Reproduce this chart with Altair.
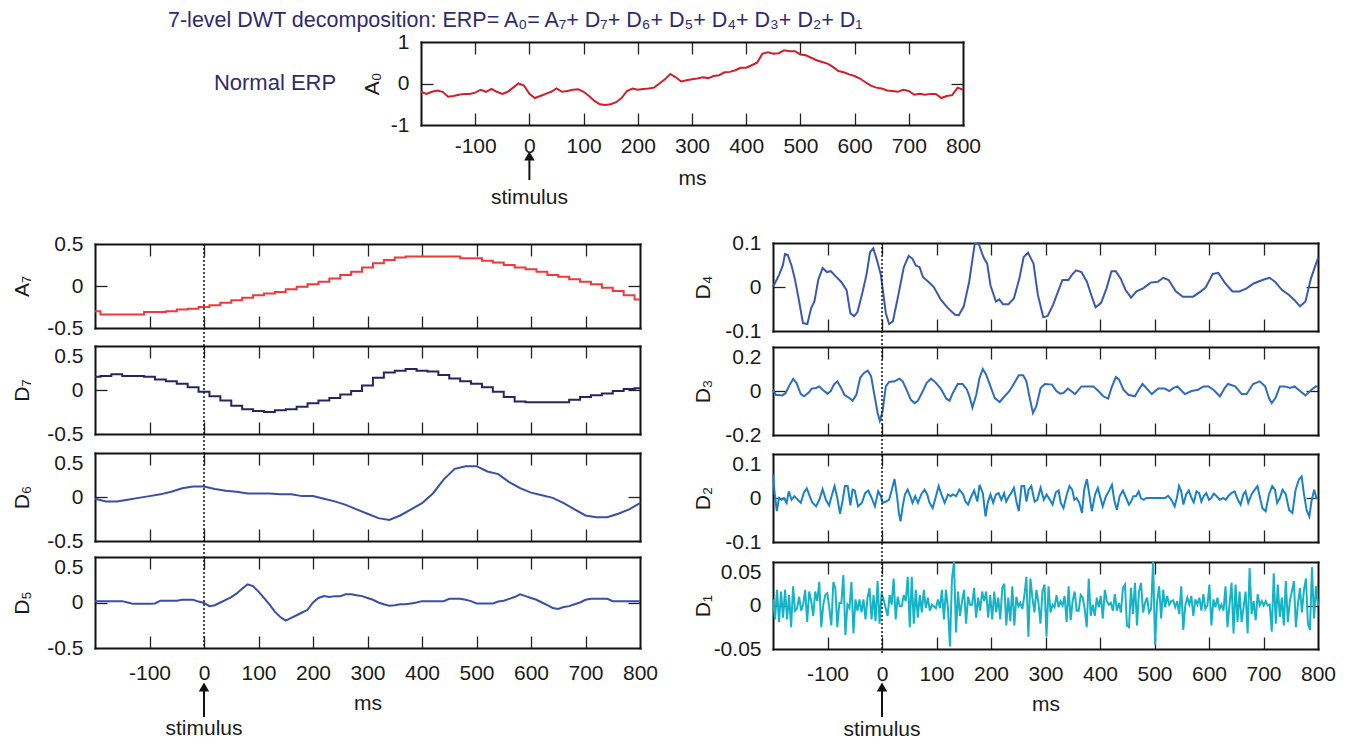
import altair as alt
import pandas as pd
import numpy as np

W, H = 1333, 732
FONT = "Liberation Sans"
FS = 21
NAVY = "#2e2b6e"

ms_ticks = [-100, 0, 100, 200, 300, 400, 500, 600, 700, 800]

# ---------------- data ----------------
a0_vals = [
    -0.20, -0.25, -0.20, -0.17, -0.20, -0.32, -0.30, -0.27, -0.25, -0.25,
    -0.22, -0.15, -0.20, -0.13, -0.20, -0.25, -0.20, -0.10, 0.00, -0.05,
    -0.25, -0.35, -0.30, -0.25, -0.20, -0.12, -0.20, -0.18, -0.15, -0.14,
    -0.20, -0.30, -0.42, -0.50, -0.52, -0.50, -0.45, -0.35, -0.18, -0.12,
    -0.15, -0.13, -0.12, -0.10, 0.00, 0.10, 0.23, 0.15, 0.05, 0.08,
    0.10, 0.12, 0.15, 0.13, 0.18, 0.20, 0.27, 0.28, 0.32, 0.38,
    0.38, 0.44, 0.50, 0.72, 0.75, 0.72, 0.73, 0.80, 0.78, 0.78,
    0.70, 0.68, 0.62, 0.56, 0.52, 0.48, 0.40, 0.30, 0.27, 0.22,
    0.18, 0.12, 0.03, -0.05, -0.10, -0.12, -0.17, -0.18, -0.20, -0.15,
    -0.18, -0.27, -0.25, -0.27, -0.25, -0.25, -0.35, -0.30, -0.28, -0.10,
    -0.15,
]

a7_vals = [
    -0.30, -0.34, -0.34, -0.34, -0.34, -0.31, -0.31, -0.30, -0.28, -0.27,
    -0.25, -0.23, -0.20, -0.17, -0.14, -0.11, -0.09, -0.07, -0.04, -0.01,
    0.02, 0.05, 0.09, 0.13, 0.17, 0.22, 0.27, 0.31, 0.34, 0.35,
    0.35, 0.35, 0.35, 0.35, 0.33, 0.33, 0.30, 0.28, 0.25, 0.22,
    0.20, 0.17, 0.13, 0.11, 0.08, 0.05, 0.02, -0.02, -0.06, -0.11,
    -0.16,
]

d7_vals = [
    0.15, 0.16, 0.18, 0.16, 0.16, 0.15, 0.12, 0.10, 0.07, 0.03,
    -0.02, -0.07, -0.12, -0.18, -0.22, -0.24, -0.25, -0.23, -0.22, -0.19,
    -0.15, -0.12, -0.09, -0.05, -0.01, 0.05, 0.14, 0.20, 0.22, 0.24,
    0.22, 0.21, 0.17, 0.13, 0.10, 0.07, 0.03, -0.02, -0.08, -0.13,
    -0.14, -0.14, -0.14, -0.14, -0.11, -0.08, -0.06, -0.04, -0.01, 0.01,
    0.02,
]

d6_vals = [
    -0.02, -0.05, -0.05, -0.03, -0.01, 0.01, 0.03, 0.06, 0.10, 0.12,
    0.12, 0.09, 0.07, 0.06, 0.04, 0.04, 0.04, 0.03, 0.03, 0.01,
    0.01, -0.02, -0.05, -0.09, -0.14, -0.19, -0.24, -0.26, -0.21, -0.14,
    -0.07, 0.04, 0.20, 0.32, 0.35, 0.35, 0.29, 0.26, 0.17, 0.10,
    0.05, 0.02, -0.01, -0.07, -0.14, -0.21, -0.23, -0.23, -0.19, -0.14,
    -0.07,
]

d5_vals = [
    0.015, 0.015, 0.015, 0.015, 0.015, 0.015, 0.0, -0.015, -0.015, -0.015,
    -0.015, -0.01, 0.02, 0.02, 0.02, 0.02, 0.03, 0.03, 0.03, 0.01,
    -0.005, -0.04, -0.03, 0.0, 0.03, 0.06, 0.10, 0.15, 0.20, 0.18,
    0.12, 0.05, -0.02, -0.10, -0.16, -0.20, -0.17, -0.14, -0.11, -0.08,
    0.0, 0.05, 0.07, 0.06, 0.07, 0.07, 0.09, 0.09, 0.08, 0.07,
    0.05, 0.03, 0.0, -0.02, -0.035, -0.03, -0.02, -0.02, -0.01, 0.0,
    0.015, 0.015, 0.015, 0.015, 0.015, 0.04, 0.04, 0.04, 0.03, 0.015,
    -0.01, -0.01, -0.01, -0.01, 0.01, 0.02, 0.04, 0.06, 0.09, 0.07,
    0.05, 0.03, 0.0, -0.03, -0.06, -0.07, -0.05, -0.04, -0.02, 0.0,
    0.03, 0.04, 0.04, 0.04, 0.04, 0.015, 0.015, 0.015, 0.015, 0.015,
    0.015,
]

d4_pts = [
    (-200, 0.0), (-189, 0.027), (-182, 0.049), (-178, 0.075), (-173, 0.073), (-166, 0.049),
    (-160, 0.019), (-153, -0.026), (-145, -0.082), (-137, -0.084), (-130, -0.048), (-124, -0.033),
    (-117, 0.016), (-109, 0.043), (-101, 0.034), (-94, 0.036), (-84, 0.023), (-75, 0.012),
    (-65, -0.007), (-58, -0.06), (-51, -0.066), (-45, -0.057), (-36, -0.013), (-28, 0.031),
    (-22, 0.079), (-16, 0.088), (-9, 0.06), (-2, 0.027), (7, -0.059), (13, -0.084),
    (20, -0.078), (30, -0.018), (40, 0.045), (49, 0.071), (56, 0.064), (62, 0.049),
    (69, 0.045), (75, 0.023), (85, 0.012), (95, 0.0), (108, -0.029), (121, -0.048),
    (134, -0.063), (141, -0.064), (150, -0.044), (160, 0.012), (170, 0.097), (177, 0.1),
    (186, 0.068), (193, 0.053), (199, 0.004), (209, -0.033), (215, -0.028), (222, -0.039),
    (232, -0.039), (242, -0.026), (252, 0.019), (260, 0.068), (268, 0.078), (278, 0.053),
    (286, -0.018), (296, -0.069), (304, -0.066), (314, -0.040), (324, -0.007), (331, 0.016),
    (342, 0.016), (348, 0.027), (356, 0.038), (366, 0.034), (376, 0.012), (386, -0.026),
    (392, -0.046), (402, -0.036), (412, -0.003), (421, 0.036), (429, 0.036), (438, 0.019),
    (447, -0.007), (457, -0.024), (467, -0.010), (479, -0.003), (493, 0.010), (506, 0.012),
    (516, 0.021), (526, 0.016), (539, -0.010), (552, -0.022), (571, -0.022), (585, -0.010),
    (594, -0.001), (607, 0.030), (617, 0.032), (630, 0.008), (643, -0.010), (656, -0.010),
    (669, -0.003), (682, 0.008), (698, 0.016), (711, 0.021), (721, 0.012), (734, -0.007),
    (747, -0.018), (757, -0.030), (767, -0.044), (777, -0.033), (787, 0.019), (800, 0.066),
]

d3_pts = [
    (-200, 0.006), (-195, -0.017), (-183, -0.02), (-177, -0.01), (-169, 0.03), (-163, 0.055),
    (-157, 0.037), (-149, -0.014), (-143, -0.024), (-134, -0.006), (-129, 0.011), (-121, 0.014),
    (-115, 0.021), (-109, 0.006), (-100, -0.012), (-94, 0.0), (-88, 0.03), (-82, 0.044),
    (-75, 0.014), (-69, -0.017), (-60, -0.032), (-54, -0.044), (-47, -0.017), (-40, 0.06),
    (-33, 0.082), (-26, 0.093), (-20, 0.067), (-14, -0.017), (-8, -0.1), (-4, -0.136),
    (1, -0.093), (7, 0.021), (13, 0.041), (23, 0.044), (32, 0.056), (38, 0.044),
    (45, 0.006), (53, -0.04), (60, -0.055), (66, -0.044), (75, 0.0), (82, 0.037),
    (90, 0.056), (99, 0.037), (109, 0.006), (118, -0.035), (124, -0.044), (130, -0.009),
    (139, 0.032), (148, 0.032), (156, 0.006), (161, -0.029), (166, -0.075), (173, -0.017),
    (179, 0.06), (185, 0.1), (191, 0.075), (199, 0.021), (207, -0.032), (216, -0.05),
    (225, -0.024), (234, 0.0), (243, 0.037), (251, 0.072), (259, 0.072), (265, 0.044),
    (271, -0.032), (277, -0.1), (283, -0.07), (291, 0.014), (299, 0.032), (312, 0.029),
    (320, 0.0), (327, -0.012), (333, -0.009), (341, 0.011), (347, 0.0), (354, -0.014),
    (366, 0.021), (388, 0.021), (397, 0.0), (406, -0.024), (415, -0.035), (421, 0.014),
    (429, 0.063), (435, 0.052), (443, 0.006), (452, -0.017), (464, -0.024), (471, 0.006),
    (478, 0.032), (486, 0.011), (495, -0.014), (507, 0.011), (519, 0.011), (527, 0.0),
    (535, 0.014), (542, 0.021), (550, 0.0), (556, -0.014), (568, 0.0), (580, 0.006),
    (590, 0.021), (599, 0.021), (608, 0.006), (620, -0.024), (629, 0.014), (635, 0.032),
    (648, 0.021), (660, -0.014), (669, -0.014), (681, 0.032), (693, 0.044), (703, 0.021),
    (710, -0.032), (715, -0.055), (722, -0.032), (730, 0.021), (739, 0.021), (749, 0.014),
    (757, 0.021), (767, 0.0), (777, -0.02), (788, 0.006), (796, 0.021), (800, 0.02),
]

d2_pts = [
    (-200, 0.053), (-197, 0.011), (-193, -0.030), (-189, 0.0), (-184, -0.004), (-180, 0.0),
    (-175, -0.011), (-171, 0.015), (-166, -0.004), (-161, 0.004), (-156, -0.002), (-149, -0.011),
    (-143, 0.013), (-138, 0.022), (-132, 0.002), (-128, -0.01), (-121, -0.019), (-115, -0.004),
    (-109, 0.02), (-103, -0.004), (-97, -0.017), (-91, 0.011), (-87, 0.027), (-82, 0.0),
    (-77, -0.036), (-72, -0.004), (-68, 0.027), (-63, 0.027), (-58, -0.017), (-54, 0.019),
    (-50, 0.017), (-44, -0.019), (-37, -0.011), (-31, 0.011), (-25, 0.017), (-19, 0.0),
    (-13, -0.019), (-7, 0.015), (-2, 0.004), (1, -0.011), (7, -0.008), (13, -0.004),
    (18, 0.019), (23, 0.043), (28, 0.0), (31, -0.034), (34, -0.053), (38, -0.019),
    (42, 0.008), (47, 0.019), (52, 0.004), (56, -0.011), (61, 0.004), (66, -0.011),
    (72, 0.008), (78, 0.019), (83, 0.008), (87, -0.01), (93, -0.023), (99, 0.004),
    (104, 0.027), (109, 0.008), (115, -0.011), (121, 0.008), (126, 0.004), (130, 0.008),
    (136, 0.004), (142, 0.019), (149, 0.008), (153, -0.008), (158, -0.015), (164, 0.004),
    (169, 0.017), (175, -0.008), (179, 0.03), (185, 0.011), (190, -0.042), (194, -0.011),
    (199, 0.008), (204, -0.011), (209, 0.008), (214, 0.011), (219, -0.004), (224, 0.011),
    (228, -0.008), (233, 0.004), (237, 0.011), (242, 0.023), (247, -0.01), (251, -0.03),
    (256, 0.027), (261, 0.027), (265, -0.008), (269, 0.019), (274, 0.027), (280, -0.008),
    (285, -0.004), (291, 0.023), (297, -0.004), (302, 0.008), (308, -0.004), (313, -0.015),
    (319, 0.013), (324, 0.017), (328, -0.011), (333, -0.023), (339, 0.008), (344, 0.027),
    (349, 0.019), (353, -0.004), (357, 0.0), (362, -0.011), (367, -0.034), (371, 0.019),
    (376, 0.043), (380, 0.011), (385, -0.03), (391, 0.008), (396, 0.023), (400, 0.004),
    (405, -0.019), (411, 0.004), (416, 0.015), (422, 0.03), (426, -0.004), (431, -0.027),
    (436, 0.004), (442, 0.017), (448, 0.0), (453, -0.015), (457, -0.008), (461, 0.004),
    (466, 0.004), (471, 0.015), (475, 0.0), (480, -0.004), (485, 0.0), (519, 0.0),
    (525, 0.005), (531, -0.004), (537, -0.019), (541, 0.0), (545, 0.027), (549, 0.015),
    (553, -0.015), (558, 0.008), (563, 0.017), (568, 0.0), (572, -0.01), (577, 0.015),
    (582, 0.011), (586, -0.008), (590, 0.004), (595, 0.011), (600, -0.004), (604, 0.0),
    (609, 0.01), (614, 0.004), (620, -0.004), (626, 0.0), (631, -0.004), (635, 0.004),
    (641, 0.011), (647, 0.015), (653, -0.004), (658, -0.015), (663, 0.008), (667, 0.015),
    (672, -0.011), (678, 0.008), (684, 0.019), (689, 0.027), (693, 0.004), (698, -0.023),
    (704, -0.03), (710, 0.008), (716, 0.027), (721, 0.019), (725, -0.011), (730, 0.0),
    (735, 0.019), (741, 0.008), (747, -0.027), (753, -0.034), (759, 0.019), (765, 0.042),
    (770, 0.049), (774, 0.011), (779, -0.027), (784, -0.042), (788, -0.008), (793, 0.019),
    (797, 0.0), (800, 0.0),
]

d1_vals = [
    0.007, -0.016, 0.018, -0.019, 0.016, -0.014, 0.018, -0.016, 0.012, -0.025,
    0.022, -0.006, -0.003, 0.010, -0.006, 0.001, 0.018, -0.019, 0.016, 0.005,
    -0.012, 0.016, 0.005, 0.027, -0.025, 0.001, 0.012, 0.014, -0.003, -0.023,
    0.027, 0.020, -0.025, 0.003, 0.003, 0.035, -0.034, 0.001, -0.003, 0.027,
    -0.032, 0.007, -0.006, 0.007, -0.008, 0.007, -0.016, 0.009, 0.020, -0.016,
    0.012, -0.018, 0.028, -0.021, 0.014, 0.007, -0.003, -0.012, 0.012, 0.001,
    0.031, -0.016, 0.010, -0.001, -0.001, 0.012, 0.005, 0.033, -0.025, 0.033,
    -0.021, 0.018, -0.014, 0.012, -0.008, 0.018, -0.003, 0.009, -0.006, 0.001,
    -0.001, -0.003, 0.007, -0.003, 0.018, -0.016, 0.018, -0.003, -0.047, 0.031,
    0.050, -0.031, 0.016, -0.012, 0.005, 0.018, -0.021, 0.010, 0.001, 0.001,
    0.020, -0.014, 0.009, -0.006, 0.016, 0.005, 0.016, -0.014, 0.012, -0.016,
    0.016, -0.008, 0.009, -0.016, 0.020, 0.025, -0.023, 0.009, -0.018, 0.022,
    -0.023, 0.010, -0.001, 0.003, -0.004, 0.012, 0.033, -0.036, 0.031, 0.009,
    -0.008, 0.018, 0.003, -0.021, 0.016, 0.024, -0.036,
    0.022, -0.008, 0.001, -0.002, 0.012, -0.002, 0.005, 0.000, 0.011, -0.019,
    0.022, -0.017, 0.005, 0.016, -0.006, -0.006, 0.012, 0.009, -0.004, -0.025,
    0.031, -0.012, 0.001, -0.012, 0.009, -0.002, 0.011, -0.015, 0.018, 0.005,
    0.001, 0.003, -0.006, 0.013, -0.006, 0.003, -0.008, 0.020, 0.024, -0.023,
    -0.025, 0.020, -0.010, 0.026, -0.023, 0.016, 0.026, -0.008, 0.003, 0.009,
    -0.008, -0.004, 0.051, -0.045, 0.005, 0.022, -0.015, 0.018, -0.002, 0.011,
    0.001, 0.005, 0.006, -0.002, 0.005, -0.010, 0.022, -0.028, 0.000, 0.009,
    0.001, 0.011, -0.012, 0.007, 0.001, 0.009, -0.006, 0.013, -0.004, 0.000,
    0.024, -0.023, 0.007, -0.002, 0.009, -0.004, 0.001, -0.006, 0.022, -0.025,
    0.001, 0.026, -0.032, 0.024, -0.019, 0.016, -0.019, -0.002, 0.016, -0.032,
    0.043, -0.010, 0.005, -0.017, 0.013, 0.000, 0.005, 0.000, 0.005, 0.000,
    0.001, -0.030, 0.037, -0.021, 0.024, -0.013, 0.009, -0.023, 0.028, -0.019,
    0.005, 0.016, 0.028, -0.025, 0.001, 0.020, -0.008, 0.018, 0.031, -0.021,
    -0.028, 0.044, -0.015, 0.022, 0.000,
]

title_text = "7-level DWT decomposition: ERP= A\u2080= A\u2087+ D\u2087+ D\u2086+ D\u2085+ D\u2084+ D\u2083+ D\u2082+ D\u2081"


def grid(vals):
    return pd.DataFrame({"t": np.linspace(-200, 800, len(vals)), "v": vals})


def pts(p):
    return pd.DataFrame({"t": [a for a, b in p], "v": [b for a, b in p]})


def xs_of(l, r):
    return alt.Scale(domain=[-200, 800], range=[l, r], nice=False, zero=False)


FRAME = dict(labels=False, title=None, grid=False, domain=True, domainColor="#111111",
             domainWidth=2, domainCap="square", ticks=True, tickColor="#222222",
             tickWidth=1.3, tickSize=12)


def panel(df, color, box, ydom, ylab, ytitle, title_dx, xlabels=False, nudge=False,
          xlab_pad=14, ms_dy=55, interp="linear"):
    l, r, t, b = box
    xs = xs_of(l, r)
    ys = alt.Scale(domain=ydom, range=[b, t], nice=False, zero=False)
    base = alt.Chart(df)
    la = base.mark_line(color=color, strokeWidth=2, interpolate=interp, clip=False).encode(
        x=alt.X("t:Q", scale=xs,
                axis=alt.Axis(orient="top", offset=-b, values=ms_ticks[:-1], **FRAME)),
        y=alt.Y("v:Q", scale=ys,
                axis=alt.Axis(orient="right", offset=l - W, values=[0], **FRAME)),
    )
    lb = base.mark_line(strokeOpacity=0).encode(
        x=alt.X("t:Q", scale=xs,
                axis=alt.Axis(orient="bottom", offset=t - H, values=ms_ticks[:-1], **FRAME)),
        y=alt.Y("v:Q", scale=ys,
                axis=alt.Axis(orient="left", offset=-r, values=[0], **FRAME)),
    )
    lab = dict(grid=False, domain=False, ticks=False, tickSize=0, labelFont=FONT,
               labelFontSize=FS, labelColor="#1a1a1a", labelExpr="datum.value + ''",
               labelOverlap=False, labelFlush=False, labelBound=False)
    yextra = {}
    if nudge:
        yextra["labelOffset"] = {"condition": {"test": "datum.value > 0", "value": 10}, "value": 0}
    yax = alt.Axis(orient="left", offset=-l, values=ylab, labelPadding=12,
                   title=ytitle, titleX=title_dx, titleY=(t + b) / 2, titleAngle=270,
                   titleAlign="center", titleBaseline="middle", titleFont=FONT,
                   titleFontSize=21, titleFontWeight="normal", titleColor="#1a1a1a",
                   **lab, **yextra)
    if xlabels:
        xax = alt.Axis(orient="bottom", offset=b - H, values=ms_ticks, labelPadding=xlab_pad,
                       title="ms", titleX=(l + r) / 2, titleY=ms_dy, titleAlign="center",
                       titleBaseline="middle", titleFont=FONT, titleFontSize=FS,
                       titleFontWeight="normal", titleColor="#1a1a1a", **lab)
    else:
        xax = None
    lc = base.mark_line(strokeOpacity=0).encode(
        x=alt.X("t:Q", scale=xs, axis=xax),
        y=alt.Y("v:Q", scale=ys, axis=yax),
    )
    return [la, lb, lc]


def stim_marker(l, r, tip, bottom, text_y):
    df = pd.DataFrame({"t": [0], "s": ["stimulus"]})
    xs = xs_of(l, r)
    base = alt.Chart(df)
    rule = base.mark_rule(color="#111111", strokeWidth=2).encode(
        x=alt.X("t:Q", scale=xs, axis=None), y=alt.value(tip + 8), y2=alt.value(bottom))
    head = base.mark_point(shape="triangle-up", filled=True, size=110, color="#111111",
                           opacity=1).encode(
        x=alt.X("t:Q", scale=xs, axis=None), y=alt.value(tip + 6))
    txt = base.mark_text(font=FONT, fontSize=FS, color="#1a1a1a", baseline="middle").encode(
        x=alt.X("t:Q", scale=xs, axis=None), y=alt.value(text_y), text="s:N")
    return [rule, head, txt]


def dotted(l, r, top, bottom):
    df = pd.DataFrame({"t": [0]})
    return alt.Chart(df).mark_rule(color="#111111", strokeWidth=1.5, strokeDash=[2, 2]).encode(
        x=alt.X("t:Q", scale=xs_of(l, r), axis=None), y=alt.value(top), y2=alt.value(bottom))


# panel boxes in chart pixels: (left, right, top, bottom)
LX = (87, 632)
RX = (765, 1310)
box_a0 = (413, 955, 34, 117)
box_a7 = (*LX, 236, 320)
box_d7 = (*LX, 338, 426)
box_d6 = (*LX, 445, 533)
box_d5 = (*LX, 549, 640)
box_d4 = (*RX, 235, 323)
box_d3 = (*RX, 339, 427)
box_d2 = (*RX, 446, 534)
box_d1 = (*RX, 554, 641)

layers = []
layers += panel(grid(a0_vals), "#d01f2a", box_a0, [-1, 1], [-1, 0, 1], "A\u2080", -49,
                xlabels=True, xlab_pad=10, ms_dy=53)
layers += panel(grid(a7_vals), "#f03a3a", box_a7, [-0.5, 0.5], [-0.5, 0, 0.5], "A\u2087", -73,
                interp="step")
layers += panel(grid(d7_vals), "#27245f", box_d7, [-0.5, 0.5], [-0.5, 0, 0.5], "D\u2087", -73,
                nudge=True, interp="step")
layers += panel(grid(d6_vals), "#3a4ea8", box_d6, [-0.5, 0.5], [-0.5, 0, 0.5], "D\u2086", -73,
                nudge=True)
layers += panel(grid(d5_vals), "#3a4ea8", box_d5, [-0.5, 0.5], [-0.5, 0, 0.5], "D\u2085", -73,
                nudge=True, xlabels=True)
layers += panel(pts(d4_pts), "#3b58ad", box_d4, [-0.1, 0.1], [-0.1, 0, 0.1], "D\u2084", -70)
layers += panel(pts(d3_pts), "#2f6cbc", box_d3, [-0.2, 0.2], [-0.2, 0, 0.2], "D\u2083", -70,
                nudge=True)
layers += panel(pts(d2_pts), "#1a80c8", box_d2, [-0.1, 0.1], [-0.1, 0, 0.1], "D\u2082", -70,
                nudge=True)
layers += panel(grid(d1_vals), "#16b3c6", box_d1, [-0.05, 0.05], [-0.05, 0, 0.05], "D\u2081", -70,
                nudge=True, xlabels=True)

layers.append(dotted(*LX, 236, 641))
layers.append(dotted(*RX, 235, 647))
layers += stim_marker(413, 955, 142, 172, 190)
layers += stim_marker(*LX, 673, 709, 721)
layers += stim_marker(*RX, 673, 709, 722)

title_df = pd.DataFrame({"s": [title_text]})
layers.append(alt.Chart(title_df).mark_text(font=FONT, fontSize=21.5, color=NAVY, align="left",
                                            baseline="middle").encode(
    text="s:N", x=alt.value(160), y=alt.value(12.5)))
label_df = pd.DataFrame({"s": ["Normal ERP"]})
layers.append(alt.Chart(label_df).mark_text(font=FONT, fontSize=22, color=NAVY, align="center",
                                            baseline="middle").encode(
    text="s:N", x=alt.value(267), y=alt.value(75)))

chart = alt.layer(*layers).resolve_scale(x="independent", y="independent").properties(
    width=W, height=H, autosize=alt.AutoSizeParams(type="none"), padding=0,
).configure(font=FONT, background="white", view=alt.ViewConfig(stroke=None))

chart.save("out.html", embed_options={"renderer": "svg", "actions": False})
